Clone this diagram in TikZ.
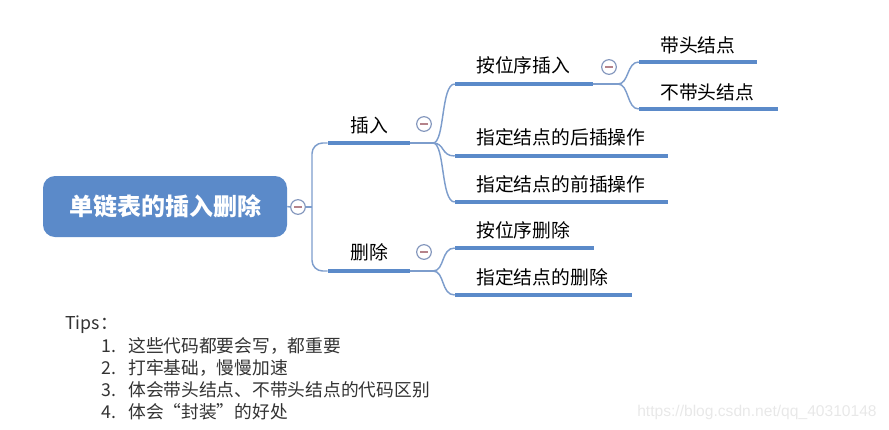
\documentclass[tikz,border=0pt]{standalone}
\usepackage{fontspec}
\setmainfont{Noto Sans CJK SC}
\newfontfamily\wmfont{Liberation Sans}
\usepackage{tikz}
\usetikzlibrary{positioning}
\definecolor{mapblue}{HTML}{5B8AC9}
\definecolor{linkblue}{HTML}{7D9DCC}
\definecolor{knobline}{HTML}{8497BD}
\definecolor{knobminus}{HTML}{B5838A}
\tikzset{
topic/.style={font=\fontsize{14.1}{17}\selectfont, text=black, inner sep=0pt, anchor=west},
bar/.style={fill=mapblue, inner sep=0pt, minimum height=3.2pt, minimum width=#1},
link/.style={draw=linkblue, line width=1.1pt},
knob/.style={circle, draw=knobline, line width=0.9pt, fill=white, inner sep=0pt, minimum size=11pt},
tip/.style={font=\fontsize{13.3}{16}\selectfont, text=black!80, inner sep=0pt, anchor=west}
}
\newcommand{\knobminus}{{\color{knobminus}\rule{5.5pt}{1pt}}}

\begin{document}
\begin{tikzpicture}[x=0.75pt,y=-0.75pt]
	\useasboundingbox (0,0) rectangle (889,429);
	\node[fill=mapblue, rounded corners=9pt, minimum width=183pt, minimum height=45.75pt, text=white,
		font=\fontsize{18}{20}\selectfont\bfseries] (root) at (165,206.5) {单链表的插入删除};
	\node[knob] (rootK) at (298,207) {\knobminus};
	\coordinate (rootJ) at (312,207);

	\node[bar=61.5pt] (insB) at (369,143) {};
	\node[bar=61.5pt] (delB) at (369,271) {};
	\node[topic] (ins) at (350,125) {插入};
	\node[topic] (del) at (350,252) {删除};
	\node[knob] (insK) at (424,124) {\knobminus};
	\node[knob] (delK) at (424,252) {\knobminus};

	\node[bar=103.5pt] (posInsB) at (524,84) {};
	\node[bar=159.75pt] (afterB) at (561.5,156) {};
	\node[bar=159.75pt] (beforeB) at (561.5,202) {};
	\node[bar=104.25pt] (posDelB) at (524.5,248) {};
	\node[bar=132.75pt] (nodeDelB) at (543.5,295) {};
	\node[topic] (posIns) at (476,65) {按位序插入};
	\node[topic] (after) at (476,137) {指定结点的后插操作};
	\node[topic] (before) at (476,184) {指定结点的前插操作};
	\node[topic] (posDel) at (476,230) {按位序删除};
	\node[topic] (nodeDel) at (476,277) {指定结点的删除};
	\node[knob] (posInsK) at (609,67) {\knobminus};

	\node[bar=88.5pt] (headB) at (698,62) {};
	\node[bar=104.25pt] (noHeadB) at (708.5,109) {};
	\node[topic] (head) at (660,45) {带头结点};
	\node[topic] (noHead) at (660,92) {不带头结点};

	\coordinate (insJ) at (433,143);
	\coordinate (delJ) at (433,271);
	\coordinate (posInsJ) at (618,84);

	\draw[link] (root.east) -- (rootK.west);
	\draw[link] (rootK.east) -- (rootJ);
	\draw[link, rounded corners=8pt] (insB.west) -| (rootJ) |- (delB.west);

	\draw[link] (insB.east) -- (insJ);
	\draw[link] (insJ) .. controls +(12,0) and +(-14,0) .. (posInsB.west);
	\draw[link] (insJ) .. controls +(12,0) and +(-14,0) .. (afterB.west);
	\draw[link] (insJ) .. controls +(12,0) and +(-14,0) .. (beforeB.west);

	\draw[link] (delB.east) -- (delJ);
	\draw[link] (delJ) .. controls +(12,0) and +(-14,0) .. (posDelB.west);
	\draw[link] (delJ) .. controls +(12,0) and +(-14,0) .. (nodeDelB.west);

	\draw[link] (posInsB.east) -- (posInsJ);
	\draw[link] (posInsJ) .. controls +(11,0) and +(-12,0) .. (headB.west);
	\draw[link] (posInsJ) .. controls +(11,0) and +(-12,0) .. (noHeadB.west);

	\node[tip] (tips) at (65,325) {Tips：};
	\foreach \n/\t [count=\i] in {1/这些代码都要会写，都重要, 2/打牢基础，慢慢加速, 3/体会带头结点、不带头结点的代码区别, 4/体会“封装”的好处}{
		\node[tip] (num\i) at (101,{346+22*(\i-1)}) {\n.};
		\node[tip] (item\i) at (128,{346+22*(\i-1)}) {\t};
	}

	\node[font=\wmfont\fontsize{11.7}{14}\selectfont, text=black!9, inner sep=0pt, anchor=west] (mark) at (637,412) {https://blog.csdn.net/qq\_40310148};
\end{tikzpicture}
\end{document}
